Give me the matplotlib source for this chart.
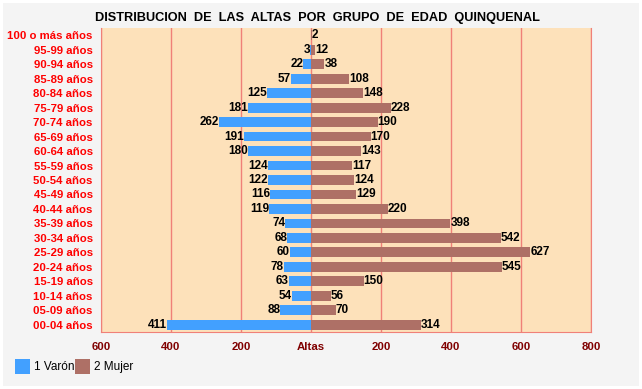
import matplotlib
matplotlib.use("Agg")
import matplotlib.pyplot as plt
import matplotlib.ticker as ticker
from matplotlib.patches import Rectangle
import numpy as np

# data, top row first
GROUPS = ["100 o más años", "95-99 años", "90-94 años", "85-89 años", "80-84 años",
          "75-79 años", "70-74 años", "65-69 años", "60-64 años", "55-59 años",
          "50-54 años", "45-49 años", "40-44 años", "35-39 años", "30-34 años",
          "25-29 años", "20-24 años", "15-19 años", "10-14 años", "05-09 años",
          "00-04 años"]
VARON = [0, 3, 22, 57, 125, 181, 262, 191, 180, 124, 122, 116, 119, 74, 68, 60, 78, 63, 54, 88, 411]
MUJER = [2, 12, 38, 108, 148, 228, 190, 170, 143, 117, 124, 129, 220, 398, 542, 627, 545, 150, 56, 70, 314]
XTICKS = [-600, -400, -200, 0, 200, 400, 600, 800]
XTICK_LABELS = ["600", "400", "200", "Altas", "200", "400", "600", "800"]

BLUE = "#42A0FF"
BROWN = "#AE7066"
GRID = "#F08078"
FONT = ["Liberation Sans", "DejaVu Sans"]

fig = plt.figure(figsize=(6.42, 3.89), dpi=100)
fig.patch.set_facecolor("white")
fig.patches.append(Rectangle((3 / 642, 3 / 389), 636 / 642, 383 / 389,
                             transform=fig.transFigure, facecolor="#F4F4F4",
                             edgecolor="none", zorder=-10))

ax = fig.add_axes([101 / 642, 1 - 332 / 389, 490 / 642, 304 / 389])
ax.set_facecolor("#FDE1BA")

y = np.arange(len(GROUPS))
ax.barh(y, -np.array(VARON), height=0.68, color=BLUE, zorder=3)
ax.barh(y, MUJER, height=0.68, color=BROWN, zorder=3)

for yi, v, m in zip(y, VARON, MUJER):
    if v:
        ax.text(-v, yi, f"{v}", ha="right", va="center", fontsize=8.5,
                fontweight="bold", family=FONT, zorder=4)
    ax.text(m, yi, f"{m}", ha="left", va="center", fontsize=8.5,
            fontweight="bold", family=FONT, zorder=4)

ax.set_xlim(-600, 800)
ax.set_ylim(len(GROUPS) - 0.5, -0.5)
ax.set_yticks(y)
ax.set_yticklabels(GROUPS, color="#FF0000", fontsize=8.2, fontweight="bold", family=FONT)
ax.xaxis.set_major_locator(ticker.FixedLocator(XTICKS))
ax.set_xticklabels(XTICK_LABELS, color="#800000", fontsize=8.2, fontweight="bold", family=FONT)
ax.tick_params(axis="y", length=0, pad=6)
ax.tick_params(axis="x", length=0, pad=7)
ax.grid(axis="x", color=GRID, linewidth=1, zorder=1)

for side in ["left", "right", "bottom"]:
    ax.spines[side].set_color(GRID)
ax.spines["top"].set_visible(False)

fig.text(317 / 642, 1 - 18 / 389, "DISTRIBUCION  DE  LAS  ALTAS  POR  GRUPO  DE  EDAD  QUINQUENAL",
         ha="center", va="center", fontsize=9.2, fontweight="bold", family=FONT)

# legend
for x0, col, lab in [(15, BLUE, "1 Varón"), (75, BROWN, "2 Mujer")]:
    fig.patches.append(Rectangle((x0 / 642, 1 - 374 / 389), 15 / 642, 15 / 389,
                                 transform=fig.transFigure, facecolor=col, edgecolor="none"))
    fig.text((x0 + 19) / 642, 1 - 367 / 389, lab, ha="left", va="center", fontsize=8.5,
             family=FONT)

plt.savefig("out.png", dpi=100)
